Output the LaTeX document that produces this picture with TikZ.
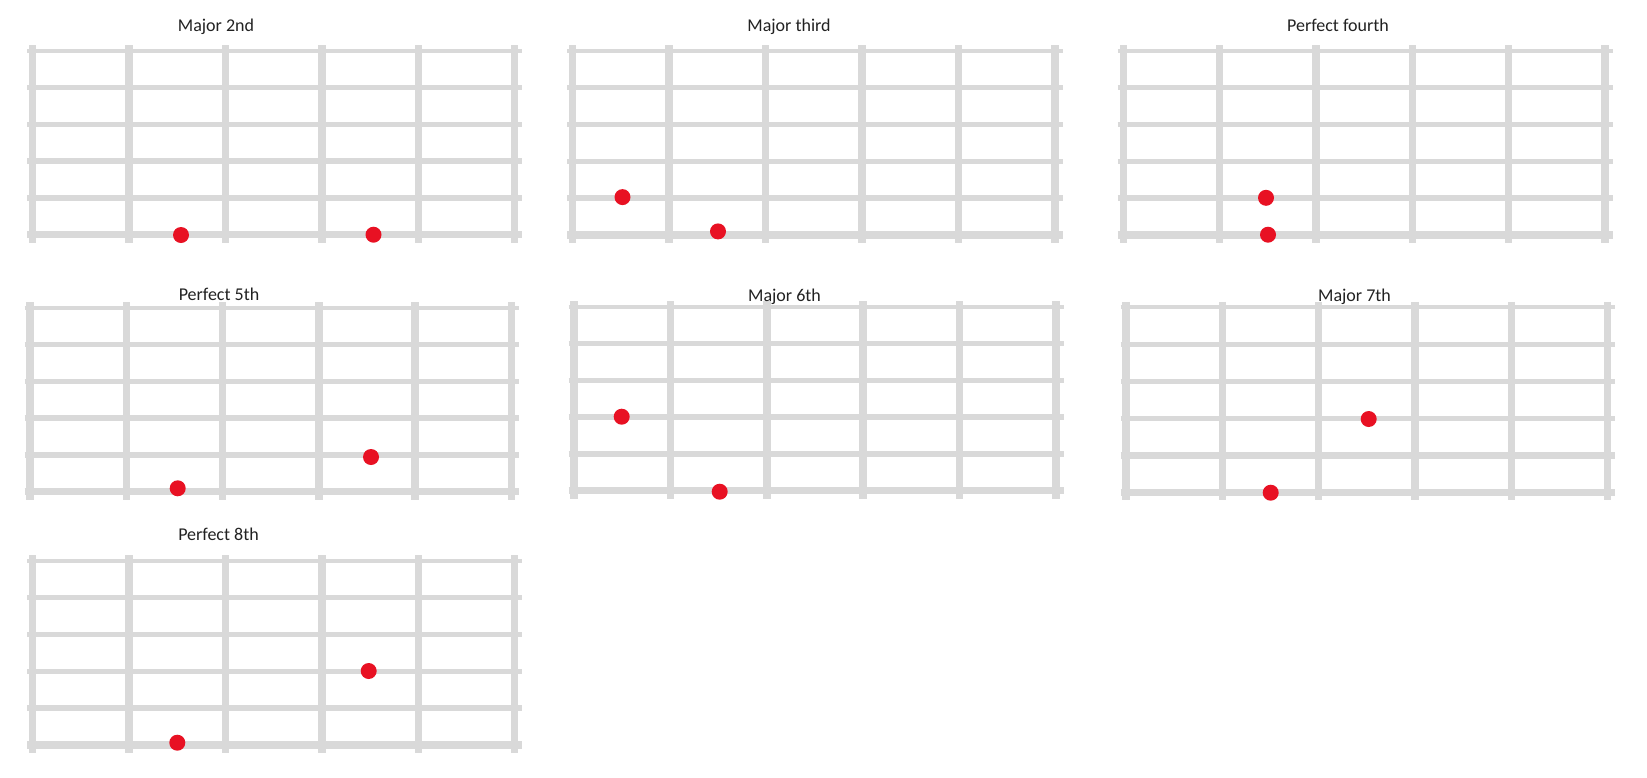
\documentclass[tikz,border=0pt]{standalone}
\usepackage{fontspec}
\setmainfont{Carlito}
\definecolor{gridgray}{HTML}{D9D9D9}
\definecolor{dotred}{HTML}{E81123}
\definecolor{titlegray}{HTML}{222222}
\tikzset{
  stringline/.style={draw=gridgray, line cap=butt},
  fretline/.style={draw=gridgray, line width=7.5pt, line cap=butt},
  notedot/.style={circle, fill=dotred, minimum size=16pt, inner sep=0pt, draw=none},
  paneltitle/.style={font=\fontsize{18}{20}\selectfont, text=titlegray, anchor=base, inner sep=0pt},
}
% #1 left fret x, #2 right fret x, #3 top string y, #4 bottom string y
\newcommand\myfboard[4]{%
  \foreach \s/\w in {0/4,1/4.5,2/4.5,3/5.5,4/6.5,5/7.5}{
    \pgfmathsetmacro\yy{#3+\s*(#4-#3)/5}
    \draw[stringline, line width=\w pt] (#1-5.5,\yy) -- (#2+7.5,\yy);
  }
  \foreach \f in {0,...,5}{
    \pgfmathsetmacro\xx{#1+\f*(#2-#1)/5}
    \draw[fretline] (\xx,#3-5.4) -- (\xx,#4+8);
  }
}
\begin{document}
\begin{tikzpicture}[x=1pt,y=-1pt]
\useasboundingbox[fill=white] (0,0) rectangle (1647,777);

% Row 1
\myfboard{32.7}{514.7}{50.7}{234.7}
\myfboard{572.7}{1055}{50.7}{235}
\myfboard{1123.3}{1605}{50.7}{235}
% Row 2
\myfboard{30}{511.3}{307.7}{491.7}
\myfboard{574}{1056}{306.7}{490.7}
\myfboard{1126}{1607.7}{307.3}{492.3}
% Row 3
\myfboard{32.7}{514.7}{560.7}{745}

% Titles
\node[paneltitle] (t1) at (216,31.4) {Major 2nd};
\node[paneltitle] (t2) at (789,31.4) {Major third};
\node[paneltitle] (t3) at (1338,31.4) {Perfect fourth};
\node[paneltitle] (t4) at (219,300.8) {Perfect 5th};
\node[paneltitle] (t5) at (784.5,301.3) {Major 6th};
\node[paneltitle] (t6) at (1354.5,301.3) {Major 7th};
\node[paneltitle] (t7) at (218.5,540.7) {Perfect 8th};

% Dots
\node[notedot] (d1a) at (181,235) {};
\node[notedot] (d1b) at (373.5,234.7) {};
\node[notedot] (d2a) at (622.5,197.1) {};
\node[notedot] (d2b) at (718,231.4) {};
\node[notedot] (d3a) at (1266,197.8) {};
\node[notedot] (d3b) at (1268,234.7) {};
\node[notedot] (d4a) at (177.7,488.3) {};
\node[notedot] (d4b) at (371,457) {};
\node[notedot] (d5a) at (621.7,416.7) {};
\node[notedot] (d5b) at (719.7,491.7) {};
\node[notedot] (d6a) at (1368.7,419) {};
\node[notedot] (d6b) at (1270.7,492.7) {};
\node[notedot] (d7a) at (177.3,742.7) {};
\node[notedot] (d7b) at (368.7,671) {};
\end{tikzpicture}
\end{document}
